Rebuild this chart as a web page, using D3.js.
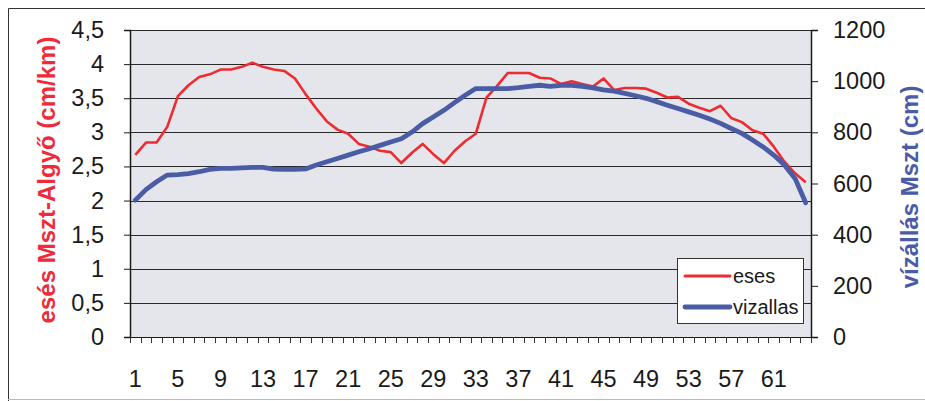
<!DOCTYPE html>
<html>
<head>
<meta charset="utf-8">
<script src="https://cdn.jsdelivr.net/npm/d3@7"></script>
<style>
  html, body { margin: 0; padding: 0; background: #fff; }
  svg { display: block; font-family: "Liberation Sans", Arial, sans-serif; }
</style>
</head>
<body>
<svg id="chart" width="925" height="401"></svg>
<script>
// Station numbers along the river section
const stations = d3.range(1, 65);
// Water-surface slope between Mszt and Algyő (cm/km)
const eses = [
  2.67, 2.85, 2.85, 3.08, 3.53, 3.69, 3.81, 3.85, 3.92, 3.92,
  3.96, 4.02, 3.96, 3.92, 3.90, 3.79, 3.56, 3.35, 3.16, 3.04,
  2.98, 2.83, 2.79, 2.73, 2.71, 2.55, 2.70, 2.83, 2.68, 2.55,
  2.73, 2.87, 2.98, 3.51, 3.68, 3.87, 3.87, 3.87, 3.80, 3.79,
  3.71, 3.75, 3.71, 3.67, 3.79, 3.62, 3.65, 3.65, 3.64, 3.58,
  3.51, 3.52, 3.42, 3.36, 3.31, 3.39, 3.21, 3.15, 3.03, 2.98,
  2.79, 2.57, 2.40, 2.27
];
// Water level at Mszt (cm)
const vizallas = [
  535, 576, 607, 633, 635, 639, 646, 655, 659, 659,
  661, 663, 663, 656, 655, 655, 657, 672, 685, 698,
  711, 724, 736, 749, 762, 775, 801, 834, 860, 886,
  916, 945, 971, 971, 971, 971, 975, 980, 984, 980,
  984, 984, 980, 974, 966, 961, 952, 943, 933, 920,
  906, 893, 880, 867, 852, 835, 815, 796, 770, 743,
  711, 672, 620, 525
];
const leftTicks = [0, 0.5, 1, 1.5, 2, 2.5, 3, 3.5, 4, 4.5];
const rightTicks = [0, 200, 400, 600, 800, 1000, 1200];
const xLabels = [1, 5, 9, 13, 17, 21, 25, 29, 33, 37, 41, 45, 49, 53, 57, 61];

const svg = d3.select("#chart");
const plot = { left: 130, right: 811, top: 30, bottom: 337 };
const tickFont = 23.5;

const x = d3.scaleBand().domain(stations).range([plot.left, plot.right]).padding(0);
const yL = d3.scaleLinear().domain([0, 4.5]).range([plot.bottom, plot.top]);
const yR = d3.scaleLinear().domain([0, 1200]).range([plot.bottom, plot.top]);
const cx = d => x(d) + x.bandwidth() / 2;

// outer frame
svg.append("path")
  .attr("d", "M8.5,401 L8.5,8.5 L925,8.5")
  .attr("fill", "none").attr("stroke", "#333").attr("stroke-width", 1);
svg.append("line")
  .attr("x1", 8).attr("x2", 925).attr("y1", 399.5).attr("y2", 399.5)
  .attr("stroke", "#bbb").attr("stroke-width", 1);

// plot background
svg.append("rect")
  .attr("x", plot.left).attr("y", plot.top)
  .attr("width", plot.right - plot.left).attr("height", plot.bottom - plot.top)
  .attr("fill", "#e5e6eb");

// horizontal gridlines
svg.append("g").selectAll("line").data(leftTicks.filter(t => t > 0)).join("line")
  .attr("x1", plot.left).attr("x2", plot.right)
  .attr("y1", d => Math.round(yL(d)) + 0.5).attr("y2", d => Math.round(yL(d)) + 0.5)
  .attr("stroke", "#2a2a2a").attr("stroke-width", 1);

// left axis
const gL = svg.append("g").attr("transform", `translate(${plot.left},0)`)
  .call(d3.axisLeft(yL).tickValues(leftTicks).tickSize(6).tickPadding(20)
    .tickFormat(d => String(d).replace(".", ",")));
// right axis
const gR = svg.append("g").attr("transform", `translate(${plot.right},0)`)
  .call(d3.axisRight(yR).tickValues(rightTicks).tickSize(7).tickPadding(15)
    .tickFormat(d => String(d)));
// bottom axis: ticks between categories
const gB = svg.append("g").attr("transform", `translate(0,${plot.bottom})`)
  .call(d3.axisBottom(x).tickValues([]).tickSizeOuter(0));
gB.selectAll(".cat-tick").data(stations.concat([65])).join("line")
  .attr("class", "cat-tick")
  .attr("x1", d => Math.round(plot.left + (d - 1) * x.step()) + 0.5)
  .attr("x2", d => Math.round(plot.left + (d - 1) * x.step()) + 0.5)
  .attr("y1", 0).attr("y2", 6)
  .attr("stroke", "#333");
gB.selectAll(".cat-label").data(xLabels).join("text")
  .attr("class", "cat-label")
  .attr("x", d => cx(d)).attr("y", 50)
  .attr("text-anchor", "middle")
  .attr("font-size", tickFont).attr("fill", "#1a1a1a")
  .text(d => d);

[gL, gR, gB].forEach(g => {
  g.selectAll(".domain").attr("stroke", "#1a1a1a").attr("stroke-width", 1.5);
  g.selectAll(".tick line").attr("stroke", "#1a1a1a");
  g.selectAll(".tick text").attr("font-size", tickFont).attr("fill", "#1a1a1a")
    .attr("font-family", "Liberation Sans, Arial, sans-serif");
});
gB.select(".domain").attr("stroke-width", 1);

// series lines
const lineL = d3.line().x((d, i) => cx(stations[i])).y(d => yL(d));
const lineR = d3.line().x((d, i) => cx(stations[i])).y(d => yR(d));
svg.append("path").datum(eses).attr("d", lineL)
  .attr("fill", "none").attr("stroke", "#ee2b30").attr("stroke-width", 2.6)
  .attr("stroke-linejoin", "round");
svg.append("path").datum(vizallas).attr("d", lineR)
  .attr("fill", "none").attr("stroke", "#4b5ca6").attr("stroke-width", 4.8)
  .attr("stroke-linejoin", "round").attr("stroke-linecap", "round");

// axis titles
svg.append("text")
  .attr("transform", "translate(55,180) rotate(-90)")
  .attr("text-anchor", "middle")
  .attr("font-size", 24).attr("font-weight", "bold").attr("fill", "#ee2b3a")
  .text("esés Mszt-Algyő (cm/km)");
svg.append("text")
  .attr("transform", "translate(918,187) rotate(-90)")
  .attr("text-anchor", "middle")
  .attr("font-size", 24).attr("font-weight", "bold").attr("fill", "#4b5ca6")
  .text("vízállás Mszt (cm)");

// legend
const lg = svg.append("g").attr("transform", "translate(677,258)");
lg.append("rect").attr("x", 0.5).attr("y", 0.5).attr("width", 126).attr("height", 65)
  .attr("fill", "#fff").attr("stroke", "#333").attr("stroke-width", 1);
const items = [
  { name: "eses", color: "#ee2b30", w: 3 },
  { name: "vizallas", color: "#4b5ca6", w: 4.8 }
];
items.forEach((it, i) => {
  const yy = 18 + i * 31;
  lg.append("line").attr("x1", 8).attr("x2", 53).attr("y1", yy).attr("y2", yy)
    .attr("stroke", it.color).attr("stroke-width", it.w).attr("stroke-linecap", "round");
  lg.append("text").attr("x", 56).attr("y", yy + 7)
    .attr("font-size", 20).attr("fill", "#1a1a1a").text(it.name);
});
</script>
</body>
</html>
